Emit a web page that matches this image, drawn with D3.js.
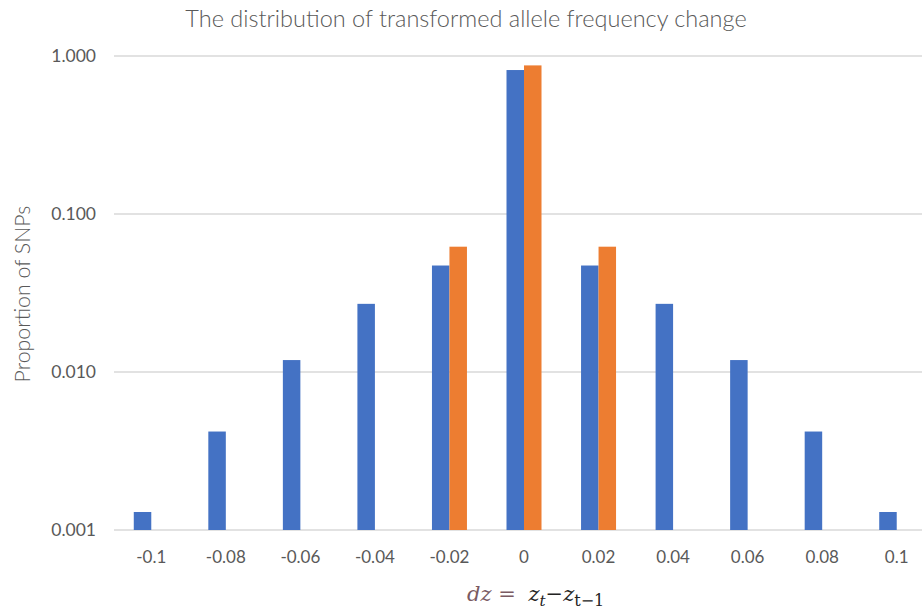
<!DOCTYPE html>
<html>
<head>
<meta charset="utf-8">
<script src="https://cdn.jsdelivr.net/npm/d3@7"></script>
<style>
  body { margin: 0; background: #fff; }
</style>
</head>
<body>
<div id="chart"></div>
<script>
const categories = ["-0.1", "-0.08", "-0.06", "-0.04", "-0.02", "0", "0.02", "0.04", "0.06", "0.08", "0.1"];
const seriesBlue = [0.0013, 0.0042, 0.0119, 0.027, 0.0472, 0.815, 0.0472, 0.027, 0.0119, 0.0042, 0.0013];
const seriesOrange = [null, null, null, null, 0.0621, 0.872, 0.0621, null, null, null, null];
const yTicks = [0.001, 0.01, 0.1, 1];

const width = 922, height = 611;
const margin = { top: 56, right: -12, bottom: 81, left: 114 };

const svg = d3.select("#chart").append("svg")
  .attr("width", width)
  .attr("height", height)
  .style("font-family", "Lato, 'Open Sans', sans-serif");

const x = d3.scaleBand()
  .domain(categories)
  .range([margin.left, width - margin.right]);

const x1 = d3.scaleBand()
  .domain(["blue", "orange"])
  .range([0, x.bandwidth()])
  .paddingInner(0)
  .paddingOuter(1.13);

const y = d3.scaleLog()
  .domain([0.001, 1])
  .range([height - margin.bottom, margin.top]);

// gridlines
svg.append("g")
  .selectAll("line")
  .data(yTicks)
  .join("line")
  .attr("x1", margin.left)
  .attr("x2", width)
  .attr("y1", d => y(d))
  .attr("y2", d => y(d))
  .attr("stroke", "#d9d9d9")
  .attr("stroke-width", 1.3);

// y tick labels
svg.append("g")
  .selectAll("text")
  .data(yTicks)
  .join("text")
  .attr("x", 96)
  .attr("y", d => y(d))
  .attr("dy", "0.35em")
  .attr("text-anchor", "end")
  .attr("fill", "#595959")
  .attr("font-size", 17.5)
  .text(d3.format(".3f"));

// bars
const rows = categories.map((c, i) => ({ cat: c, blue: seriesBlue[i], orange: seriesOrange[i] }));
const colors = { blue: "#4472c4", orange: "#ed7d31" };

const groups = svg.append("g")
  .selectAll("g")
  .data(rows)
  .join("g")
  .attr("transform", d => `translate(${x(d.cat)},0)`);

groups.selectAll("rect")
  .data(d => ["blue", "orange"].filter(k => d[k] != null).map(k => ({ key: k, value: d[k] })))
  .join("rect")
  .attr("x", d => x1(d.key))
  .attr("width", x1.bandwidth())
  .attr("y", d => y(d.value))
  .attr("height", d => y(0.001) - y(d.value))
  .attr("fill", d => colors[d.key]);

// x tick labels
svg.append("g")
  .selectAll("text")
  .data(categories)
  .join("text")
  .attr("x", d => x(d) + x.bandwidth() / 2)
  .attr("y", 563)
  .attr("text-anchor", "middle")
  .attr("fill", "#595959")
  .attr("font-size", 17)
  .text(d => d);

// title
svg.append("text")
  .attr("x", 466)
  .attr("y", 27)
  .attr("text-anchor", "middle")
  .attr("fill", "#595959")
  .attr("font-size", 23.5)
  .attr("font-weight", 300)
  .text("The distribution of transformed allele frequency change");

// y axis title
svg.append("text")
  .attr("transform", "translate(30,294) rotate(-90)")
  .attr("text-anchor", "middle")
  .attr("fill", "#595959")
  .attr("font-size", 21.3)
  .attr("font-weight", 300)
  .text("Proportion of SNPs");

// x axis title (formula)
const xt = svg.append("text")
  .attr("x", 467)
  .attr("y", 601)
  .attr("font-family", "'DejaVu Serif', 'Liberation Serif', serif")
  .attr("font-size", 21);
xt.append("tspan").attr("fill", "#7a5a62").attr("font-style", "italic").text("dz = ");
xt.append("tspan").attr("fill", "#222").attr("font-style", "italic").attr("dx", 6).text("z");
xt.append("tspan").attr("fill", "#222").attr("font-style", "italic").attr("font-size", 15).attr("dy", 5).text("t");
xt.append("tspan").attr("fill", "#222").attr("dy", -5).text("\u2212");
xt.append("tspan").attr("fill", "#222").attr("font-style", "italic").text("z");
xt.append("tspan").attr("fill", "#222").attr("font-size", 16).attr("dy", 5).text("t\u22121");
</script>
</body>
</html>
